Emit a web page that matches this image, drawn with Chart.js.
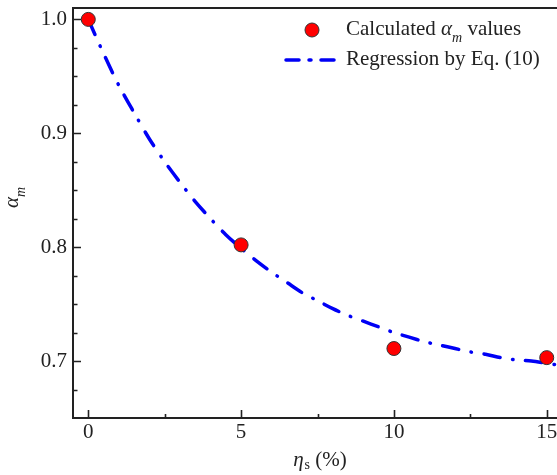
<!DOCTYPE html>
<html>
<head>
<meta charset="utf-8">
<script src="https://cdn.jsdelivr.net/npm/chart.js@4"></script>
<style>
  html, body { margin: 0; padding: 0; background: #fff; overflow: hidden; }
  #wrap { width: 570px; height: 475px; }
</style>
</head>
<body>
<div id="wrap"><canvas id="myChart" width="570" height="475"></canvas></div>
<script>
// measured points
const etaValues = [0, 5, 10, 15];
const alphaValues = [1.0, 0.802, 0.711, 0.703];

// regression curve
const curveEta = [0, 0.5, 1, 1.5, 2, 2.5, 3, 3.5, 4, 4.5, 5, 5.5, 6, 6.5, 7, 7.5, 8, 8.5, 9, 9.5, 10, 10.5, 11, 11.5, 12, 12.5, 13, 13.5, 14, 14.5, 15, 15.5, 16];
const curveAlpha = [1.0, 0.970, 0.942, 0.918, 0.895, 0.875, 0.857, 0.840, 0.825, 0.811, 0.799, 0.788, 0.778, 0.769, 0.760, 0.753, 0.746, 0.740, 0.735, 0.730, 0.725, 0.721, 0.717, 0.714, 0.711, 0.708, 0.706, 0.703, 0.701, 0.700, 0.698, 0.696, 0.695];

// ticks
const xMajor = [0, 5, 10, 15];
const xMinor = [2.5, 7.5, 12.5];
const yMajor = [0.7, 0.8, 0.9, 1.0];
const yMinor = [0.675, 0.725, 0.75, 0.775, 0.825, 0.85, 0.875, 0.925, 0.95, 0.975];

const textColor = "#222";
const serif = "'Liberation Serif', 'Times New Roman', serif";
const lineBlue = "rgb(0, 0, 245)";

// draws a run of text pieces with different fonts / offsets
const drawRich = (c, parts, x, y) => {
  let cx = x;
  parts.forEach((p) => {
    c.font = p.font;
    c.fillText(p.text, cx, y + (p.dy || 0));
    cx += c.measureText(p.text).width + (p.gap || 0);
  });
  return cx;
};
const richWidth = (c, parts) => {
  let w = 0;
  parts.forEach((p) => {
    c.font = p.font;
    w += c.measureText(p.text).width + (p.gap || 0);
  });
  return w;
};

// frame, inward ticks, axis titles and legend
const decorPlugin = {
  id: "decor",
  afterDraw: (chart) => {
    const c = chart.ctx;
    const area = chart.chartArea;
    const xs = chart.scales.x;
    const ys = chart.scales.y;
    c.save();
    c.strokeStyle = textColor;
    c.lineWidth = 2;
    c.strokeRect(area.left, area.top, area.right - area.left, area.bottom - area.top);

    c.lineWidth = 1.6;
    c.beginPath();
    xMajor.forEach((v) => {
      const px = Math.round(xs.getPixelForValue(v)) + 0.5;
      c.moveTo(px, area.bottom); c.lineTo(px, area.bottom - 8);
    });
    xMinor.forEach((v) => {
      const px = Math.round(xs.getPixelForValue(v)) + 0.5;
      c.moveTo(px, area.bottom); c.lineTo(px, area.bottom - 4);
    });
    yMajor.forEach((v) => {
      const py = Math.round(ys.getPixelForValue(v)) + 0.5;
      c.moveTo(area.left, py); c.lineTo(area.left + 8, py);
    });
    yMinor.forEach((v) => {
      const py = Math.round(ys.getPixelForValue(v)) + 0.5;
      c.moveTo(area.left, py); c.lineTo(area.left + 4.5, py);
    });
    c.stroke();

    c.fillStyle = textColor;
    c.textBaseline = "alphabetic";
    c.textAlign = "left";

    // x title
    const xTitle = [
      { text: "\u03b7", font: "italic 21px " + serif, gap: 1 },
      { text: "s", font: "14px " + serif, dy: 3 },
      { text: " (%)", font: "21px " + serif },
    ];
    const xw = richWidth(c, xTitle);
    drawRich(c, xTitle, 320 - xw / 2, 466);

    // y title, rotated
    c.save();
    c.translate(18, 208);
    c.rotate(-Math.PI / 2);
    drawRich(c, [
      { text: "\u03b1", font: "italic 21px " + serif, gap: 0 },
      { text: "m", font: "italic 14px " + serif, dy: 7 },
    ], 0, 0);
    c.restore();

    // legend
    c.beginPath();
    c.arc(312, 30, 7, 0, Math.PI * 2);
    c.fillStyle = "#ff0000";
    c.fill();
    c.lineWidth = 1;
    c.strokeStyle = "#333";
    c.stroke();

    c.beginPath();
    c.strokeStyle = lineBlue;
    c.lineWidth = 3.5;
    c.lineCap = "round";
    c.setLineDash([13, 10, 2, 10]);
    c.moveTo(286, 60);
    c.lineTo(337, 60);
    c.stroke();
    c.setLineDash([]);

    c.fillStyle = textColor;
    drawRich(c, [
      { text: "Calculated ", font: "21px " + serif },
      { text: "\u03b1", font: "italic 21px " + serif },
      { text: "m", font: "italic 14px " + serif, dy: 7 },
      { text: " values", font: "21px " + serif },
    ], 346, 35);
    drawRich(c, [{ text: "Regression by Eq. (10)", font: "21px " + serif }], 346, 65);
    c.restore();
  },
};

const ctx = document.getElementById("myChart");

const chart = new Chart(ctx, {
  type: "scatter",
  data: {
    datasets: [
      {
        label: "Calculated values",
        data: etaValues.map((x, i) => ({ x: x, y: alphaValues[i] })),
        pointRadius: 7,
        pointHoverRadius: 7,
        backgroundColor: "#ff0000",
        borderColor: "#333",
        borderWidth: 1,
        order: 0,
      },
      {
        type: "line",
        label: "Regression by Eq. (10)",
        data: curveEta.map((x, i) => ({ x: x, y: curveAlpha[i] })),
        borderColor: lineBlue,
        borderWidth: 3.5,
        borderDash: [16.5, 12.5, 0.5, 12.5],
        borderCapStyle: "round",
        pointRadius: 0,
        tension: 0.3,
        fill: false,
        order: 1,
      },
    ],
  },
  options: {
    responsive: false,
    animation: false,
    layout: { padding: { top: 6, right: 4, left: 0, bottom: 0 } },
    plugins: {
      legend: { display: false },
      tooltip: { enabled: false },
    },
    scales: {
      x: {
        type: "linear",
        min: -0.5,
        max: 15.5,
        grid: { display: false, drawTicks: false },
        border: { display: false },
        afterBuildTicks: (s) => { s.ticks = xMajor.map((v) => ({ value: v })); },
        afterFit: (s) => { s.height = 57; s.paddingLeft = 0; s.paddingRight = 0; },
        ticks: {
          color: textColor,
          font: { family: serif, size: 21 },
          padding: 2,
          maxRotation: 0,
          callback: (v) => String(v),
        },
      },
      y: {
        type: "linear",
        min: 0.65,
        max: 1.01,
        grid: { display: false, drawTicks: false },
        border: { display: false },
        afterBuildTicks: (s) => { s.ticks = yMajor.map((v) => ({ value: v })); },
        afterFit: (s) => { s.width = 73; s.paddingTop = 0; s.paddingBottom = 0; },
        ticks: {
          color: textColor,
          font: { family: serif, size: 21 },
          padding: 6,
          callback: (v) => v.toFixed(1),
        },
      },
    },
  },
  plugins: [decorPlugin],
});
</script>
</body>
</html>
